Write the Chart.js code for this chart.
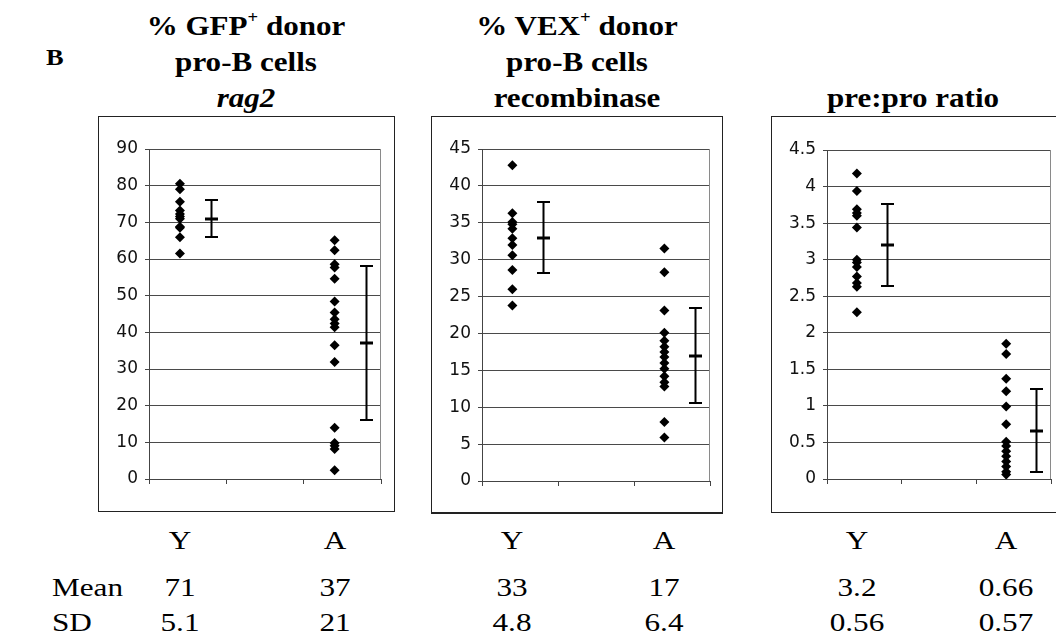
<!DOCTYPE html>
<html>
<head>
<meta charset="utf-8">
<script src="https://cdn.jsdelivr.net/npm/chart.js@4/dist/chart.umd.min.js"></script>
<style>
  html, body { margin: 0; padding: 0; background: #fff; }
  body { width: 1056px; height: 638px; position: relative; overflow: hidden;
         font-family: "Liberation Serif", "Times New Roman", serif; color: #000; }
  .box { position: absolute; border: 1px solid #222; box-sizing: border-box; }
  .plot { position: absolute; }
  .plot canvas { display: block; }
  .title { position: absolute; font-weight: bold; font-size: 27px; line-height: 36px;
           text-align: center; white-space: nowrap; transform: translateX(-50%) scaleX(1.15); }
  .title sup { font-size: 60%; line-height: 0; position: relative; top: -0.1em; vertical-align: super; }
  .letter { position: absolute; font-weight: bold; font-size: 24px; line-height: 24px;
            transform: scaleX(1.1); transform-origin: left center; }
  .cell { position: absolute; font-size: 26px; line-height: 26px; white-space: nowrap;
          transform: translateX(-50%) scaleX(1.2); }
  .rowhead { position: absolute; font-size: 26px; line-height: 26px; white-space: nowrap;
             transform: scaleX(1.2); transform-origin: left center; }
</style>
</head>
<body>

<div class="letter" style="left:46px; top:45px;">B</div>

<div class="title" style="left:246px; top:8px;">% GFP<sup>+</sup> donor<br>pro-B cells<br><i>rag2</i></div>
<div class="title" style="left:577px; top:8px;">% VEX<sup>+</sup> donor<br>pro-B cells<br>recombinase</div>
<div class="title" style="left:913px; top:80px;">pre:pro ratio</div>

<div class="box" style="left:98px; top:116px; width:297px; height:396px;"></div>
<div class="box" style="left:431px; top:116px; width:292px; height:398px; border-bottom-width:2px;"></div>
<div class="box" style="left:771px; top:116px; width:300px; height:397px;"></div>

<div class="plot" style="left:99px; top:117px;"><canvas id="gfp" width="295" height="393"></canvas></div>
<div class="plot" style="left:432px; top:117px;"><canvas id="vex" width="290" height="396"></canvas></div>
<div class="plot" style="left:772px; top:117px;"><canvas id="ratio" width="284" height="394"></canvas></div>

<div class="rowhead" style="left:52px; top:575px;">Mean</div>
<div class="rowhead" style="left:52px; top:610px;">SD</div>

<script>
// Groups: young (Y) and aged (A) donors
const groups = ['Y', 'A'];

// % GFP+ donor pro-B cells (rag2 reporter)
const gfpYoung = [80.5, 79.0, 75.6, 73.2, 72.3, 71.6, 71.0, 68.8, 68.5, 65.9, 61.5];
const gfpAged  = [65.1, 62.4, 58.6, 57.7, 54.6, 48.4, 45.4, 43.6, 42.4, 41.4, 36.5, 31.9, 14.0, 9.8, 9.1, 8.2, 2.4];
const gfpMean  = [71, 37];
const gfpSD    = [5.1, 21];
const gfpTicks = ['0', '10', '20', '30', '40', '50', '60', '70', '80', '90'];

// % VEX+ donor pro-B cells (recombinase reporter)
const vexYoung = [42.8, 36.3, 35.1, 34.8, 34.2, 32.9, 32.0, 30.6, 28.6, 26.0, 23.8];
const vexAged  = [31.5, 28.3, 23.1, 20.1, 19.0, 18.2, 17.5, 16.8, 16.0, 15.2, 14.2, 13.4, 12.8, 8.0, 5.9];
const vexMean  = [33, 17];
const vexSD    = [4.8, 6.4];
const vexTicks = ['0', '5', '10', '15', '20', '25', '30', '35', '40', '45'];

// pre-B : pro-B ratio
const ratioYoung = [4.18, 3.94, 3.69, 3.64, 3.60, 3.44, 3.00, 2.96, 2.90, 2.77, 2.68, 2.63, 2.28];
const ratioAged  = [1.85, 1.71, 1.37, 1.20, 0.99, 0.75, 0.51, 0.45, 0.38, 0.31, 0.24, 0.17, 0.10, 0.06];
const ratioMean  = [3.2, 0.66];
const ratioSD    = [0.56, 0.57];
const ratioTicks = ['0', '0.5', '1', '1.5', '2', '2.5', '3', '3.5', '4', '4.5'];

// Horizontal placement of each group's dots and of its mean ± SD bar (x axis runs 0..3)
const POINT_X = [0.4, 2.4];
const BAR_X   = [0.8, 2.8];

// Mean ± SD bars, with a short heavy tick at the mean
const errorBars = {
  id: 'errorBars',
  afterDatasetsDraw(chart, args, opts) {
    const { ctx, scales: { x, y } } = chart;
    const half = 6.5;
    ctx.save();
    ctx.strokeStyle = '#000';
    opts.bars.forEach(b => {
      const px = Math.round(x.getPixelForValue(b.x)) + 0.5;
      const top = Math.round(y.getPixelForValue(b.mean + b.sd));
      const bot = Math.round(y.getPixelForValue(Math.max(b.mean - b.sd, y.min)));
      const mid = Math.round(y.getPixelForValue(b.mean));
      ctx.lineWidth = 2;
      ctx.beginPath();
      ctx.moveTo(px, top); ctx.lineTo(px, bot);
      ctx.moveTo(px - half, top); ctx.lineTo(px + half, top);
      ctx.moveTo(px - half, bot); ctx.lineTo(px + half, bot);
      ctx.stroke();
      ctx.lineWidth = 3;
      ctx.beginPath();
      ctx.moveTo(px - half, mid); ctx.lineTo(px + half, mid);
      ctx.stroke();
    });
    ctx.restore();
  }
};

// Right-hand edge of the plotting area
const plotFrame = {
  id: 'plotFrame',
  beforeDatasetsDraw(chart) {
    const { ctx, chartArea: a } = chart;
    ctx.save();
    ctx.strokeStyle = '#8a8a8a';
    ctx.lineWidth = 1;
    ctx.beginPath();
    ctx.moveTo(Math.round(a.right) - 0.5, a.top);
    ctx.lineTo(Math.round(a.right) - 0.5, a.bottom);
    ctx.stroke();
    ctx.restore();
  }
};

function buildChart(id, young, aged, mean, sd, tickLabels, layout) {
  const tickValues = tickLabels.map(Number);
  const step = tickValues[1] - tickValues[0];
  const series = [young, aged];
  const datasets = series.map((vals, i) => ({
    label: groups[i],
    data: vals.map(v => ({ x: POINT_X[i], y: v })),
    pointStyle: 'rectRot',
    pointRadius: 5,
    pointBorderWidth: 0,
    backgroundColor: '#000',
    borderColor: '#000',
    showLine: false
  }));
  const bars = groups.map((g, i) => ({ x: BAR_X[i], mean: mean[i], sd: sd[i] }));

  return new Chart(document.getElementById(id), {
    type: 'scatter',
    data: { datasets },
    plugins: [plotFrame, errorBars],
    options: {
      responsive: false,
      animation: false,
      events: [],
      layout: { padding: { left: 0, top: layout.top, right: layout.right, bottom: layout.bottom } },
      plugins: {
        legend: { display: false },
        tooltip: { enabled: false },
        errorBars: { bars }
      },
      scales: {
        x: {
          type: 'linear', min: 0, max: 3,
          ticks: { display: false, stepSize: 1 },
          grid: { drawOnChartArea: false, drawTicks: true, tickLength: 5, color: '#444' },
          border: { display: true, color: '#444', width: 1 },
          afterFit(s) { s.height = 5; s.paddingLeft = 0; s.paddingRight = 0; }
        },
        y: {
          type: 'linear', min: tickValues[0], max: tickValues[tickValues.length - 1],
          ticks: {
            stepSize: step, padding: 7, color: '#111',
            font: { family: 'DejaVu Sans', size: 17 },
            callback(value) {
              const k = tickValues.findIndex(t => Math.abs(t - value) < step / 100);
              return k >= 0 ? tickLabels[k] : '';
            }
          },
          grid: { color: '#4a4a4a', lineWidth: 1, tickLength: 4, tickColor: '#444' },
          border: { display: true, color: '#444', width: 1 },
          afterFit(s) { s.width = layout.axis; s.paddingTop = 0; s.paddingBottom = 0; }
        }
      }
    }
  });
}

const panels = [
  { mean: gfpMean, sd: gfpSD,
    chart: buildChart('gfp', gfpYoung, gfpAged, gfpMean, gfpSD, gfpTicks, { axis: 50, top: 32, right: 13, bottom: 26 }) },
  { mean: vexMean, sd: vexSD,
    chart: buildChart('vex', vexYoung, vexAged, vexMean, vexSD, vexTicks, { axis: 50, top: 32, right: 12, bottom: 27 }) },
  { mean: ratioMean, sd: ratioSD,
    chart: buildChart('ratio', ratioYoung, ratioAged, ratioMean, ratioSD, ratioTicks, { axis: 55, top: 33, right: 3, bottom: 27 }) }
];

// Group letters and the Mean / SD summary, centred under each group's dots
function addCell(text, cx, top) {
  const d = document.createElement('div');
  d.className = 'cell';
  d.style.left = cx + 'px';
  d.style.top = top + 'px';
  d.textContent = text;
  document.body.appendChild(d);
}
panels.forEach(p => {
  const offset = p.chart.canvas.parentElement.offsetLeft;
  groups.forEach((g, i) => {
    const cx = offset + p.chart.scales.x.getPixelForValue(POINT_X[i]);
    addCell(g, cx, 528);
    addCell(String(p.mean[i]), cx, 575);
    addCell(String(p.sd[i]), cx, 610);
  });
});
</script>
</body>
</html>
